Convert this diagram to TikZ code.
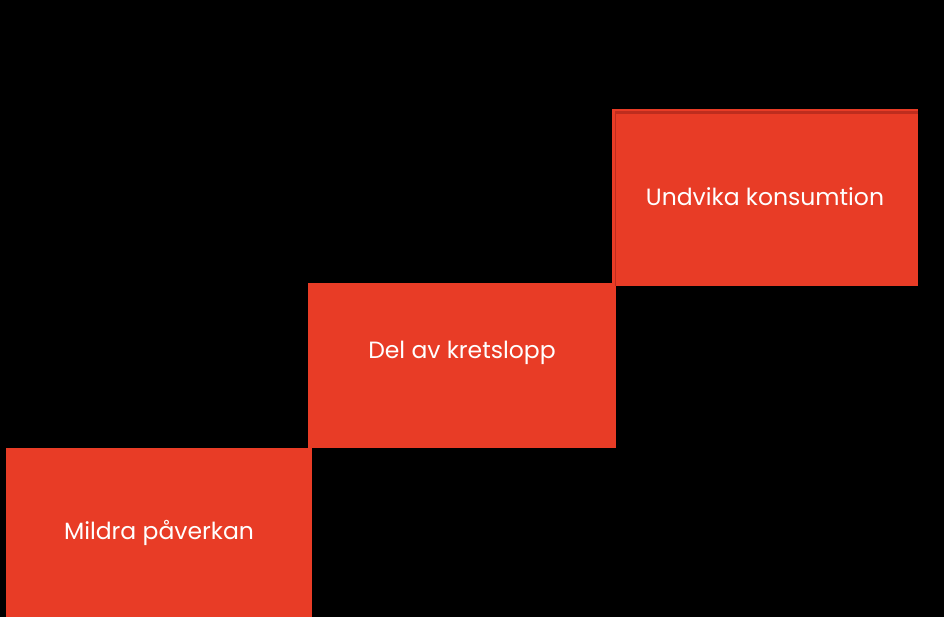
\documentclass[tikz,border=0pt]{standalone}
\usepackage{fontspec}
\setmainfont{Poppins}
\definecolor{stepred}{RGB}{232,60,38}
\definecolor{stepdark}{RGB}{190,45,30}
\begin{document}
\begin{tikzpicture}[x=1pt,y=-1pt,
  stepbox/.style={fill=stepred,draw=none,inner sep=0pt,anchor=north west},
  steptext/.style={text=white,font=\fontsize{23.5}{26}\selectfont,inner sep=0pt}]
\fill[black] (0,0) rectangle (944,617);
\useasboundingbox (0,0) rectangle (944,617);
\node[stepbox,minimum width=306pt,minimum height=169pt] (b1) at (6,448) {};
\node[stepbox,minimum width=308pt,minimum height=165pt] (b2) at (308,283) {};
\node[stepbox,minimum width=306pt,minimum height=177pt] (b3) at (612,109) {};
\draw[stepdark,line width=3pt] (615,113) -- (918,113);
\draw[stepdark,line width=1pt] (615.5,113) -- (615.5,286);
\node[steptext] (t3) at (765,197) {Undvika konsumtion};
\node[steptext] (t2) at (462,353) {Del av kretslopp};
\node[steptext] (t1) at (159,533) {Mildra påverkan};
\end{tikzpicture}
\end{document}
